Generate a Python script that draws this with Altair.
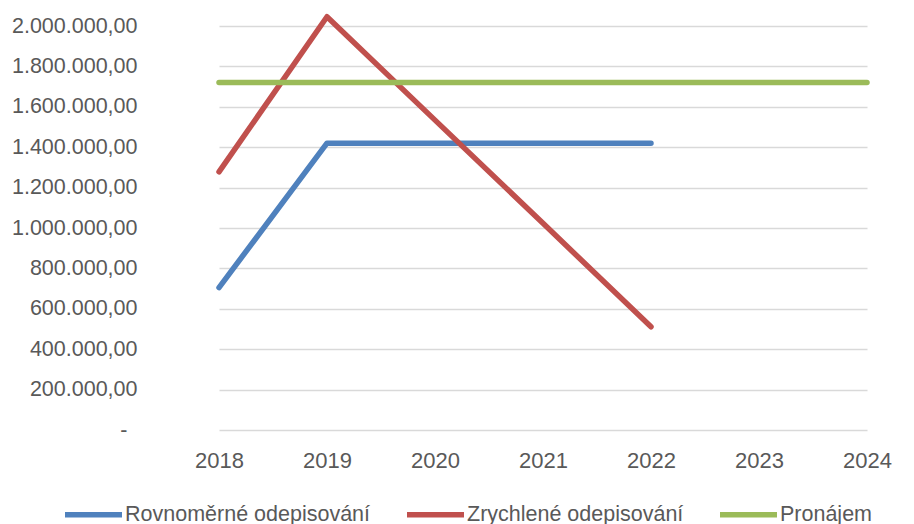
import altair as alt
import pandas as pd

years = ["2018", "2019", "2020", "2021", "2022", "2023", "2024"]
series_names = ["Rovnoměrné odepisování", "Zrychlené odepisování", "Pronájem"]
rovnomerne = [705000, 1420000, 1420000, 1420000, 1420000, None, None]
zrychlene = [1278000, 2046000, 1534000, 1023000, 511000, None, None]
pronajem = [1720000, 1720000, 1720000, 1720000, 1720000, 1720000, 1720000]
colors = ["#4F81BD", "#C0504D", "#9BBB59"]
y_ticks = [0, 200000, 400000, 600000, 800000, 1000000, 1200000, 1400000, 1600000, 1800000, 2000000]

rows = []
for name, vals in zip(series_names, [rovnomerne, zrychlene, pronajem]):
    for yr, v in zip(years, vals):
        if v is not None:
            rows.append({"rok": yr, "serie": name, "hodnota": v})
df = pd.DataFrame(rows)

FONT = "Liberation Sans"
GREY = "#595959"

label_expr = (
    "datum.value == 0 ? '-' : "
    "replace(replace(replace(replace(format(datum.value, ',.2f'), '.', ';'), ',', '.'), ',', '.'), ';', ',')"
)

chart = (
    alt.Chart(df)
    .mark_line(strokeWidth=5.5, strokeCap="round", strokeJoin="round", clip=False)
    .encode(
        x=alt.X(
            "rok:O",
            sort=years,
            scale=alt.Scale(type="point", domain=years, range=[54, 702], padding=0),
            axis=alt.Axis(
                title=None, labelAngle=0, ticks=False, domain=False, grid=False,
                labelFont=FONT, labelFontSize=22, labelColor=GREY, labelPadding=20,
            ),
        ),
        y=alt.Y(
            "hodnota:Q",
            scale=alt.Scale(domain=[0, 2000000], nice=False, zero=True),
            axis=alt.Axis(
                title=None, values=y_ticks, ticks=False, domain=False, grid=True,
                gridColor="#D9D9D9", gridWidth=1.3,
                labelFont=FONT, labelFontSize=21.5, labelColor=GREY,
                labelPadding={"condition": {"test": "datum.value == 0", "value": 38}, "value": 28},
                labelExpr=label_expr,
            ),
        ),
        color=alt.Color(
            "serie:N",
            sort=series_names,
            scale=alt.Scale(domain=series_names, range=colors),
            legend=alt.Legend(
                title=None, orient="none", direction="horizontal",
                legendX=-103, legendY=457,
                symbolType="stroke", symbolSize=3249, symbolStrokeWidth=5.5,
                labelFont=FONT, labelFontSize=21.5, labelColor=GREY, labelLimit=0,
                labelOffset=0, columnPadding=25, padding=0,
            ),
        ),
        detail="serie:N",
    )
    .properties(
        width=749,
        height=404,
        background="white",
        autosize=alt.AutoSizeParams(type="none"),
        padding={"left": 165, "top": 26, "right": 0, "bottom": 94},
    )
    .configure_view(strokeWidth=0, stroke="transparent")
)

chart.save("out.html", embed_options={"renderer": "svg", "actions": False})
